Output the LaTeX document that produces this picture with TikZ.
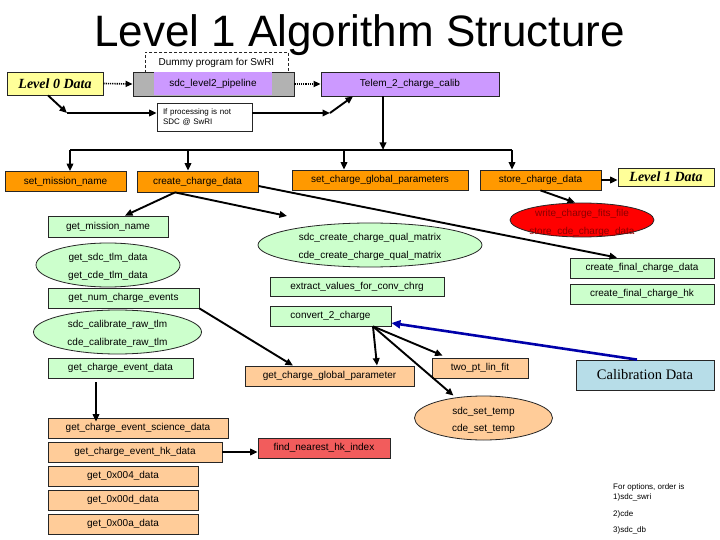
\documentclass[tikz,border=0pt]{standalone}
\usepackage{fontspec}
\setmainfont{Liberation Sans}
\newfontfamily\serifface{Liberation Serif}
\usetikzlibrary{arrows.meta,shapes.geometric}
\definecolor{orng}{RGB}{255,153,0}
\definecolor{lorng}{RGB}{255,204,153}
\definecolor{lgrn}{RGB}{204,255,204}
\definecolor{purp}{RGB}{204,153,255}
\definecolor{gry}{RGB}{178,178,178}
\definecolor{yel}{RGB}{255,255,153}
\definecolor{lred}{RGB}{242,92,92}
\definecolor{lblue}{RGB}{183,221,232}
\definecolor{dblue}{RGB}{0,0,170}
\definecolor{dred}{RGB}{140,0,0}
\begin{document}
\begin{tikzpicture}[x=1pt,y=-1pt,
  lab/.style={font=\fontsize{10}{18}\selectfont, inner sep=0pt, align=center},
  box/.style={draw=black!85, line width=0.8pt, inner sep=0pt, font=\fontsize{10}{12}\selectfont},
  ell/.style={ellipse, draw=black!85, line width=0.8pt, inner sep=0pt},
  arr/.style={-{Triangle[length=7.5pt,width=6.5pt]}, line width=1.9pt},
  dotarr/.style={-{Triangle[length=7pt,width=6pt]}, line width=1.6pt, dash pattern=on 1.2pt off 1pt},
  bluearr/.style={-{Triangle[length=9pt,width=8pt]}, line width=2.6pt, dblue},
  datafont/.style={font=\serifface\bfseries\itshape\fontsize{14}{16}\selectfont}
]
\fill[white] (0,0) rectangle (720,540);
\useasboundingbox (0,0) rectangle (720,540);

% title
\node[font=\fontsize{44}{50}\selectfont, anchor=base, inner sep=0pt] (title) at (359.5,47) {Level 1 Algorithm Structure};

% top row
\node[box, dash pattern=on 3pt off 2pt, minimum width=143pt, minimum height=21pt] (dummy) at (216.5,62.5) {Dummy program for SwRI};
\node[box, fill=yel, minimum width=96pt, minimum height=23pt, datafont] (lvl0) at (55,83.5) {Level 0 Data};
\node[box, fill=gry, minimum width=161pt, minimum height=24pt] (gray) at (213.5,84) {};
\node[box, draw=none, fill=purp, minimum width=118pt, minimum height=23pt] (pipe) at (213,84) {sdc\_level2\_pipeline};
\node[box, fill=purp, minimum width=178pt, minimum height=24pt] (telem) at (410,84) {Telem\_2\_charge\_calib};
\node[box, fill=white, minimum width=95pt, minimum height=28pt, text width=83pt, align=left, font=\fontsize{8}{9.5}\selectfont] (ifbox) at (204.5,117) {If processing is not\\SDC @ SwRI};

% orange row
\node[box, fill=orng, minimum width=121pt, minimum height=20pt] (setmn) at (65.5,181.5) {set\_mission\_name};
\node[box, fill=orng, minimum width=121pt, minimum height=21pt] (ccd) at (197.5,181.5) {create\_charge\_data};
\node[box, fill=orng, minimum width=176pt, minimum height=20pt] (scgp) at (380,180) {set\_charge\_global\_parameters};
\node[box, fill=orng, minimum width=121pt, minimum height=20pt] (store) at (540.5,180) {store\_charge\_data};
\node[box, fill=yel, minimum width=96pt, minimum height=18pt, datafont] (lvl1) at (666,177) {Level 1 Data};

% right side
\node[ell, fill=red, minimum width=144pt, minimum height=34pt] (red) at (582,220) {};
\node[lab, text=dred] (redtxt) at (582,223) {write\_charge\_fits\_file\\store\_cde\_charge\_data};
\node[box, fill=lgrn, minimum width=144pt, minimum height=20pt] (cfcd) at (642,268) {create\_final\_charge\_data};
\node[box, fill=lgrn, minimum width=144pt, minimum height=20pt] (cfhk) at (642,294) {create\_final\_charge\_hk};

% middle
\node[ell, fill=lgrn, minimum width=224pt, minimum height=44pt] (qual) at (370,245) {};
\node[lab] (qualtxt) at (370,247) {sdc\_create\_charge\_qual\_matrix\\cde\_create\_charge\_qual\_matrix};
\node[box, fill=lgrn, minimum width=174pt, minimum height=19pt] (extract) at (357,286.5) {extract\_values\_for\_conv\_chrg};
\node[box, fill=lgrn, minimum width=121pt, minimum height=20pt] (conv) at (330.5,316) {convert\_2\_charge};
\node[box, fill=lorng, minimum width=169pt, minimum height=20pt] (gcgp) at (329.5,376) {get\_charge\_global\_parameter};
\node[box, fill=lorng, minimum width=96pt, minimum height=20pt] (twopt) at (480,368) {two\_pt\_lin\_fit};
\node[ell, fill=lorng, minimum width=138pt, minimum height=44pt] (settemp) at (483.5,418) {};
\node[lab, font=\fontsize{10}{17}\selectfont] (settemptxt) at (483.5,420) {sdc\_set\_temp\\cde\_set\_temp};
\node[box, fill=lblue, minimum width=138pt, minimum height=30pt, font=\serifface\fontsize{14.5}{16}\selectfont] (caldata) at (645,375) {Calibration Data};
\node[box, fill=lred, minimum width=132pt, minimum height=20pt] (fnhk) at (324,448) {find\_nearest\_hk\_index};

% left column
\node[box, fill=lgrn, minimum width=120pt, minimum height=21pt] (getmn) at (108,226.5) {get\_mission\_name};
\node[ell, fill=lgrn, minimum width=144pt, minimum height=44pt] (tlm) at (108,265) {};
\node[lab] (tlmtxt) at (108,267) {get\_sdc\_tlm\_data\\get\_cde\_tlm\_data};
\node[box, fill=lgrn, minimum width=151pt, minimum height=20pt] (gnce) at (123.5,298) {get\_num\_charge\_events};
\node[ell, fill=lgrn, minimum width=168pt, minimum height=44pt] (cal) at (117.5,332) {};
\node[lab] (caltxt) at (117.5,334) {sdc\_calibrate\_raw\_tlm\\cde\_calibrate\_raw\_tlm};
\node[box, fill=lgrn, minimum width=145pt, minimum height=20pt] (gced) at (120.5,368) {get\_charge\_event\_data};
\node[box, fill=lorng, minimum width=180pt, minimum height=20pt] (gcesd) at (138,428) {get\_charge\_event\_science\_data};
\node[box, fill=lorng, minimum width=174pt, minimum height=20pt] (gcehk) at (135,452) {get\_charge\_event\_hk\_data};
\node[box, fill=lorng, minimum width=150pt, minimum height=20pt] (g004) at (123,476) {get\_0x004\_data};
\node[box, fill=lorng, minimum width=150pt, minimum height=20pt] (g00d) at (123,500) {get\_0x00d\_data};
\node[box, fill=lorng, minimum width=150pt, minimum height=20pt] (g00a) at (123,524) {get\_0x00a\_data};

% note
\node[anchor=north west, inner sep=0pt, align=left, font=\fontsize{8}{10}\selectfont] (note) at (613,483) {For options, order is\\1)sdc\_swri\\[7pt]2)cde\\[6pt]3)sdc\_db};

% coordinates
\coordinate (c1) at (67,113);
\coordinate (c2) at (330,113);
\coordinate (j) at (383,150);
\coordinate (b1) at (70,150);
\coordinate (b2) at (188,150);
\coordinate (b3) at (344,150);
\coordinate (b4) at (512,150);
\coordinate (q) at (287,216);
\coordinate (cv) at ([xshift=42.5pt]conv.south);

% connectors top
\draw[dotarr] (lvl0.east) -- (gray.west);
\draw[dotarr] (gray.east) -- (telem.west);
\draw[arr] ([xshift=-7pt]lvl0.south) -- (c1);
\draw[arr] (c1) -- (c1 -| ifbox.west);
\draw[arr] (c1 -| ifbox.east) -- (c2);
\draw[arr] (c2) -- ([xshift=-57pt]telem.south);
\draw[arr] (j |- telem.south) -- (j);
\draw[line width=1.9pt] (b1) -- (b4);
\draw[arr] (b1) -- (b1 |- setmn.north);
\draw[arr] (b2) -- (b2 |- ccd.north);
\draw[arr] (b3) -- (b3 |- scgp.north);
\draw[arr] (b4) -- (b4 |- store.north);
\draw[arr] (store.east) -- (store.east -| lvl1.west);
\draw[arr] (store.south) -- ([xshift=-7pt]red.north);

% from create_charge_data
\draw[arr] ([xshift=-22.5pt]ccd.south) -- ([xshift=17pt]getmn.north);
\draw[arr] ([xshift=-22.5pt]ccd.south) -- (q);
\draw[arr] ([yshift=-4.5pt]ccd.east) -- ([xshift=-25pt]cfcd.north);

% left column
\draw[arr] (gnce.south east) -- ([xshift=-36.5pt]gcgp.north);
\draw[arr] ([xshift=-24.5pt,yshift=-4pt]gced.south) -- ([xshift=-24.5pt,yshift=-4pt]gced.south |- gcesd.north);
\draw[arr] (gcehk.east) -- (gcehk.east -| fnhk.west);

% convert_2_charge
\draw[arr] (cv) -- ([xshift=47.5pt]gcgp.north);
\draw[arr] (cv) -- ([xshift=11pt,yshift=2pt]twopt.north west);
\draw[arr] (cv) -- ([xshift=-30pt]settemp.north);
\draw[bluearr] ([xshift=-8pt]caldata.north) -- ([yshift=-7pt]conv.east);
\end{tikzpicture}
\end{document}
